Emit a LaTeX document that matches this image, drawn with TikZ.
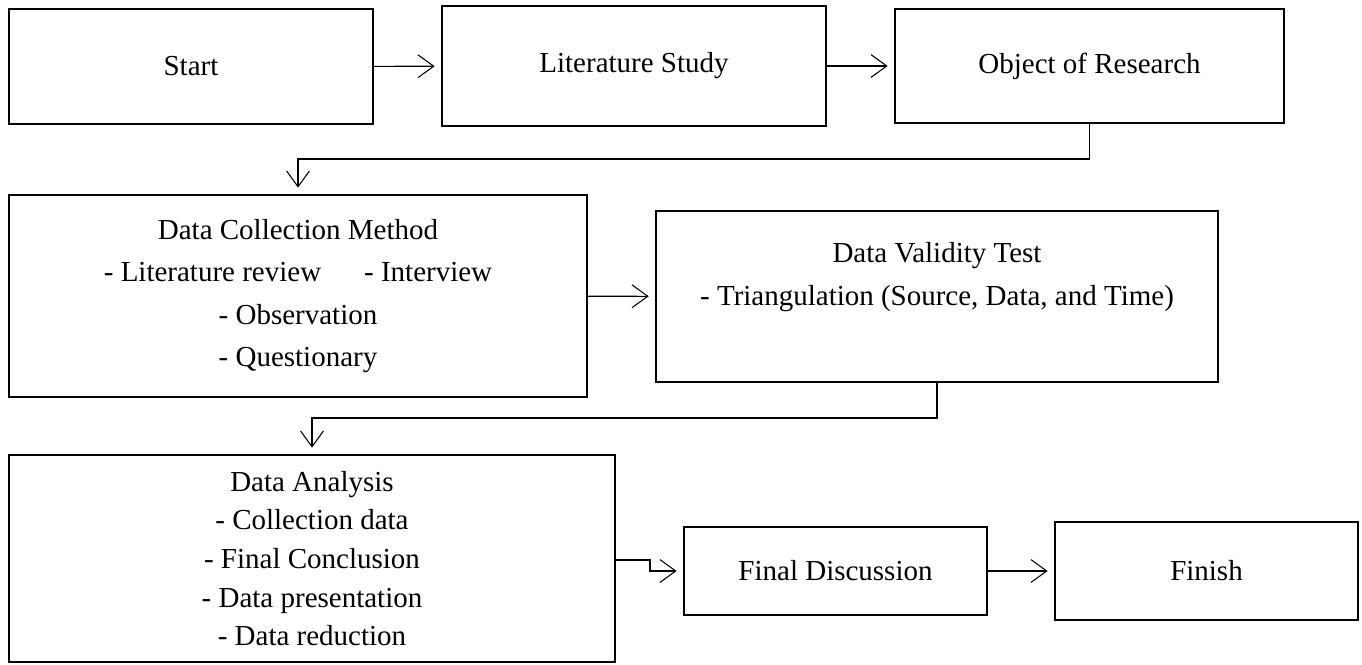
\documentclass[tikz,border=0pt]{standalone}
\usepackage{fontspec}
\setmainfont{Liberation Serif}
\usetikzlibrary{arrows.meta}

\begin{document}
\begin{tikzpicture}[x=0.02cm, y=-0.02cm, >={Straight Barb[length=9pt,width=13pt]},
    box/.style={draw, line width=1.4pt, inner sep=0pt, align=center,
      font=\fontsize{16.5}{23}\selectfont},
    link/.style={->, line width=0.6pt, shorten >=3.5pt}]
                % Khung hình
                \useasboundingbox (0,0) rectangle (1362,664);
                
                % Hàng trên
                \node[box, minimum width=7.28cm, minimum height=2.30cm] (start) at (191,66.5) {Start};
                \node[box, minimum width=7.68cm, minimum height=2.40cm] (lit) at (634,66) {Literature Study};
                \node[box, minimum width=7.78cm, minimum height=2.28cm] (obj) at (1089.5,66) {Object of Research};
                
                % Hàng giữa
                \node[box, minimum width=11.56cm, minimum height=4.04cm, font=\fontsize{16.5}{24}\selectfont] (dcm) at (298,296) {Data Collection Method\\
                  - Literature review\hspace{0.86cm}- Interview\\ - Observation\\ - Questionary};
                \node[box, minimum width=11.24cm, minimum height=3.42cm] (dvt) at (937,296.5) {};
                \node[align=center, font=\fontsize{16.5}{24}\selectfont] (dvtlabel) at (937,277)
                  {Data Validity Test\\ - Triangulation (Source, Data, and Time)};
                
                % Hàng dưới
                \node[box, minimum width=12.12cm, minimum height=4.14cm, font=\fontsize{16.5}{22}\selectfont] (da) at (312,558.5)
                  {Data Analysis\\ - Collection data\\ - Final Conclusion\\ - Data presentation\\ - Data reduction};
                \node[box, minimum width=6.06cm, minimum height=1.76cm] (fd) at (835.5,571) {Final Discussion};
                \node[box, minimum width=6.06cm, minimum height=1.96cm] (fin) at (1206.5,571) {Finish};
                
                % Điểm gấp
                \coordinate (c1) at (1089.5,159);
                \coordinate (c2) at (298,159);
                \coordinate (c3) at (937,418);
                \coordinate (c4) at (312,418);
                \coordinate (c5) at (650,560);
                \coordinate (c6) at (650,571);
                
                % Mũi tên
                \draw[link] (start) -- (lit);
                \draw[link] (lit) -- (obj);
                \draw[link] (obj.south) -- (c1) -- (c2) -- (dcm.north);
                \draw[link] (dcm) -- (dvt);
                \draw[link] (dvt.south) -- (c3) -- (c4) -- (da.north);
                \draw[link] (da.east |- c5) -- (c5) -- (c6) -- (fd.west);
                \draw[link] (fd) -- (fin);
            \end{tikzpicture}
\end{document}
